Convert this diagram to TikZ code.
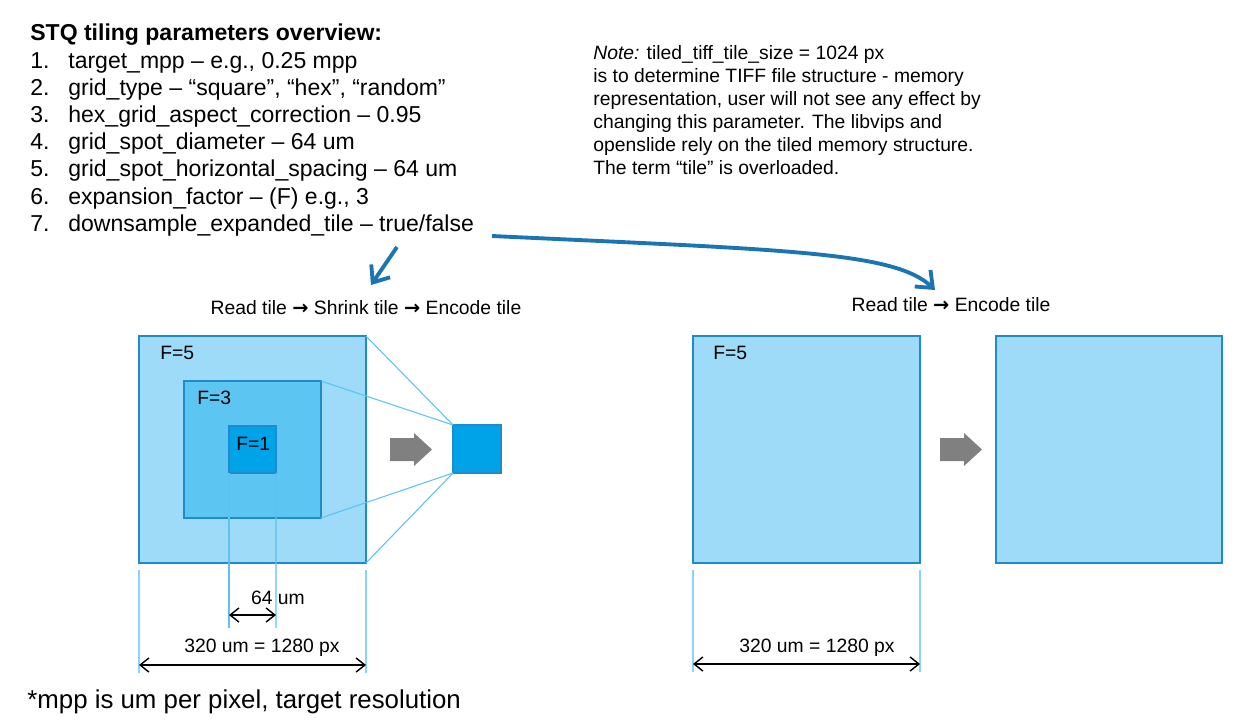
\documentclass[tikz,border=0pt]{standalone}
\usepackage{fontspec}
\setmainfont{Liberation Sans}
\newfontfamily\arrowfont{DejaVu Sans}
\usetikzlibrary{arrows.meta}
\definecolor{fillfive}{HTML}{9DDBF8}
\definecolor{fillthree}{HTML}{5CC5F2}
\definecolor{fillone}{HTML}{00A3E8}
\definecolor{edgeblue}{HTML}{1E8BCB}
\definecolor{guideblue}{HTML}{5BC2F1}
\definecolor{dimblue}{HTML}{8AD4F6}
\definecolor{flowblue}{HTML}{1B75B2}
\definecolor{blockgray}{HTML}{808080}
\newcommand{\rarr}{{\arrowfont\bfseries →}}
\begin{document}
\begin{tikzpicture}[x=0.02cm,y=-0.02cm,
  txt/.style={anchor=base west,inner sep=0pt,font=\fontsize{11}{13}\selectfont},
  listtxt/.style={anchor=base west,inner sep=0pt,font=\fontsize{13.1}{15}\selectfont},
  tilebox/.style={draw=edgeblue,line width=0.9pt,anchor=north west,inner sep=0pt,outer sep=0pt},
  guide/.style={draw=guideblue,line width=0.6pt},
  dimline/.style={draw=dimblue,line width=0.7pt},
  dimarrow/.style={draw=black,line width=0.8pt,{Straight Barb[length=5pt,width=8pt]}-{Straight Barb[length=5pt,width=8pt]}},
  flow/.style={draw=flowblue,line width=2.2pt,-{Straight Barb[length=8pt,width=13pt]}},
  blockarrow/.style={fill=blockgray,draw=none}
]
\useasboundingbox (0,0) rectangle (1236,720);

% ---- parameter list ----
\node[listtxt,font=\fontsize{13.1}{15}\selectfont\bfseries] (title) at (30,40) {STQ tiling parameters overview:};
\foreach \i/\t [count=\k] in {1/{target\_mpp – e.g., 0.25 mpp},
  2/{grid\_type – “square”, “hex”, “random”},
  3/{hex\_grid\_aspect\_correction – 0.95},
  4/{grid\_spot\_diameter – 64 um},
  5/{grid\_spot\_horizontal\_spacing – 64 um},
  6/{expansion\_factor – (F) e.g., 3},
  7/{downsample\_expanded\_tile – true/false}}{
  \node[listtxt] (num\i) at (30,{68+27.2*(\k-1)}) {\i.};
  \node[listtxt] (item\i) at (68,{68+27.2*(\k-1)}) {\t};
}

% ---- note ----
\node[txt] (note1) at (593,59) {\textit{Note:} tiled\_tiff\_tile\_size = 1024 px};
\node[txt] (note2) at (593,82) {is to determine TIFF file structure - memory};
\node[txt] (note3) at (593,105) {representation, user will not see any effect by};
\node[txt] (note4) at (593,128) {changing this parameter. The libvips and};
\node[txt] (note5) at (593,151) {openslide rely on the tiled memory structure.};
\node[txt] (note6) at (593,174) {The term “tile” is overloaded.};

% ---- flow labels ----
\node[txt,anchor=base] (lflow) at (366,314) {Read tile \rarr{} Shrink tile \rarr{} Encode tile};
\node[txt,anchor=base] (rflow) at (951,311) {Read tile \rarr{} Encode tile};

% ---- blue arrows ----
\coordinate (sa) at (397,247);
\coordinate (sb) at (371,285);
\draw[flow] (sa) -- (sb);
\coordinate (la) at (492,236);
\coordinate (lb) at (935,290);
\draw[flow] (la) .. controls (790,250) and (895,252) .. (lb);

% ---- left tile nest ----
\node[tilebox,fill=fillfive,minimum width=4.54cm,minimum height=4.54cm] (big) at (139,336) {};
\node[tilebox,fill=fillthree,minimum width=2.74cm,minimum height=2.74cm] (mid) at (184,381) {};
\node[tilebox,fill=fillone,minimum width=0.94cm,minimum height=0.94cm] (small) at (229,426) {};
\node[tilebox,fill=fillone,minimum width=0.96cm,minimum height=0.96cm] (out) at (453,425) {};
\node[txt] (f5) at (160,359) {F=5};
\node[txt] (f3) at (197,404) {F=3};
\node[txt] (f1) at (236,450) {F=1};

\draw[guide] (big.north east) -- (out.north west);
\draw[guide] (mid.north east) -- (out.north west);
\draw[guide] (mid.south east) -- (out.south west);
\draw[guide] (big.south east) -- (out.south west);

% vertical guides below F=1
\coordinate (s1) at (229,628);
\coordinate (s2) at (276,628);
\draw[guide] (small.south west) -- (s1);
\draw[guide] (small.south east) -- (s2);

% dimension lines left
\coordinate (d1t) at (139,570); \coordinate (d1b) at (139,673);
\coordinate (d2t) at (366,570); \coordinate (d2b) at (366,673);
\draw[dimline] (d1t) -- (d1b);
\draw[dimline] (d2t) -- (d2b);
\coordinate (a64l) at (229,615); \coordinate (a64r) at (276,615);
\draw[dimarrow] (a64l) -- (a64r);
\node[txt,anchor=base] (lab64) at (278,604) {64 um};
\coordinate (a320l) at (139,665); \coordinate (a320r) at (366,665);
\draw[dimarrow] (a320l) -- (a320r);
\node[txt,anchor=base] (lab320) at (262,652) {320 um = 1280 px};

% gray block arrows
\fill[blockgray] (390,438) -- (414,438) -- (414,433) -- (432,449.5) -- (414,466) -- (414,461) -- (390,461) -- cycle;
\fill[blockgray] (940,438) -- (964,438) -- (964,433) -- (982,449.5) -- (964,466) -- (964,461) -- (940,461) -- cycle;

% ---- right tiles ----
\node[tilebox,fill=fillfive,minimum width=4.54cm,minimum height=4.54cm] (rbig) at (693,336) {};
\node[tilebox,fill=fillfive,minimum width=4.52cm,minimum height=4.54cm] (rout) at (996,336) {};
\node[txt] (rf5) at (713,359) {F=5};

\coordinate (d3t) at (693,570); \coordinate (d3b) at (693,672);
\coordinate (d4t) at (920,570); \coordinate (d4b) at (920,672);
\draw[dimline] (d3t) -- (d3b);
\draw[dimline] (d4t) -- (d4b);
\coordinate (a3l) at (693,664); \coordinate (a3r) at (920,664);
\draw[dimarrow] (a3l) -- (a3r);
\node[txt,anchor=base] (rlab320) at (817,652) {320 um = 1280 px};

% ---- footnote ----
\node[anchor=base west,inner sep=0pt,font=\fontsize{14.7}{17}\selectfont] (foot) at (27,708) {*mpp is um per pixel, target resolution};
\end{tikzpicture}
\end{document}
